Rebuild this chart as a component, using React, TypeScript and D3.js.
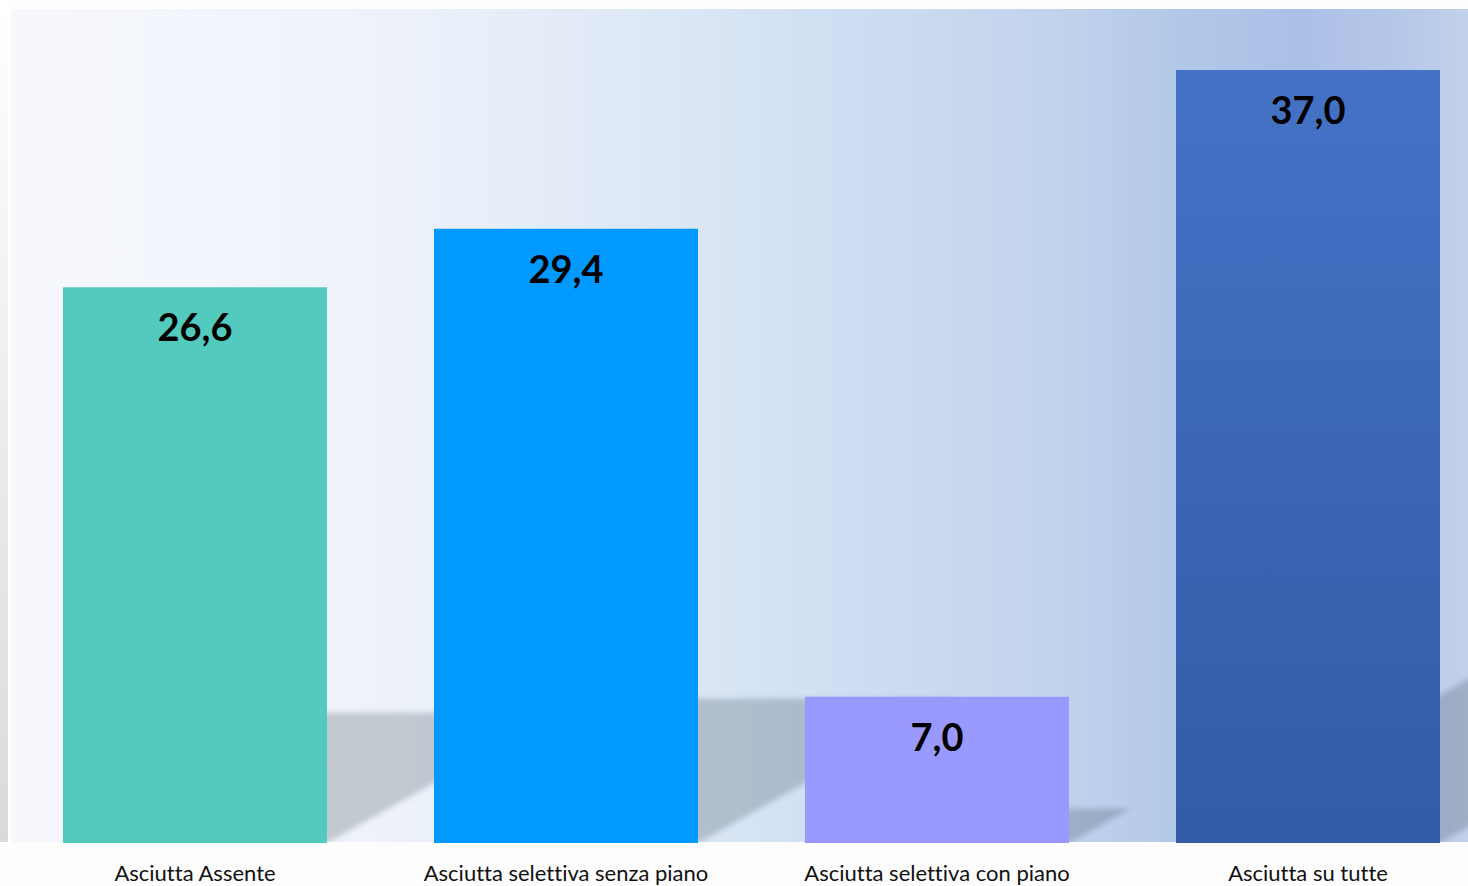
import React from "react";
import * as d3 from "d3";

const categories = [
  "Asciutta Assente",
  "Asciutta selettiva senza piano",
  "Asciutta selettiva con piano",
  "Asciutta su tutte",
];
const values = [26.6, 29.4, 7.0, 37.0];
const valueLabels = ["26,6", "29,4", "7,0", "37,0"];
const barColors = ["#52CBBE", "#0099FF", "#9999FF", "url(#bar4grad)"];

const W = 1468;
const H = 886;

const bgStops: [number, string][] = [
  [0, "#F7F8FD"],
  [0.267, "#EDF2FA"],
  [0.473, "#DAE6F5"],
  [0.555, "#D0DFF2"],
  [0.713, "#C2D3EC"],
  [0.8, "#B3C8E8"],
  [0.885, "#ACBFE6"],
  [0.953, "#B6C8E8"],
  [1, "#C2D0EA"],
];

export default function App() {
  const plot = { x0: 11, y0: 9, x1: W, y1: 842 };
  const base = 843;
  const x = d3
    .scaleBand<string>()
    .domain(categories)
    .range([9.5, 1493.5])
    .paddingInner(0.2884)
    .paddingOuter(0.1442);
  const y = d3.scaleLinear().domain([0, 37]).range([base, 70]);

  const shadowRatio = 0.235;
  const slope = 0.56;
  const textStyle = { fontVariantLigatures: "none" as const, fontFeatureSettings: "'liga' 0, 'clig' 0" };

  return (
    <svg
      width={W}
      height={H}
      style={{ position: "absolute", left: 0, top: 0, display: "block" }}
    >
      <defs>
        <linearGradient id="bg" gradientUnits="userSpaceOnUse" x1={plot.x0} x2={plot.x1} y1="0" y2="0">
          {bgStops.map(([o, c]) => (
            <stop key={o} offset={o} stopColor={c} />
          ))}
        </linearGradient>
        <linearGradient id="leftStrip" x1="0" x2="0" y1="0" y2="1">
          <stop offset="0" stopColor="#FFFFFF" />
          <stop offset="1" stopColor="#DADADA" />
        </linearGradient>
        <linearGradient id="bar4grad" x1="0" x2="0" y1="0" y2="1">
          <stop offset="0" stopColor="#4472C6" />
          <stop offset="1" stopColor="#335BA6" />
        </linearGradient>
        <filter id="blur" x="-20%" y="-20%" width="140%" height="140%">
          <feGaussianBlur stdDeviation="2.5" />
        </filter>
        <clipPath id="plotClip">
          <rect x={plot.x0} y={plot.y0} width={plot.x1 - plot.x0} height={plot.y1 - plot.y0} />
        </clipPath>
      </defs>

      <rect x={0} y={0} width={W} height={H} fill="#FDFDFD" />
      <rect x={0} y={0} width={8} height={plot.y1} fill="url(#leftStrip)" />
      <rect x={8} y={plot.y0 - 2} width={W - 8} height={plot.y1 - plot.y0 + 2} fill="#FFFFFF" />
      <rect
        x={plot.x0}
        y={plot.y0}
        width={plot.x1 - plot.x0}
        height={plot.y1 - plot.y0}
        fill="url(#bg)"
      />

      <g clipPath="url(#plotClip)">
        <g filter="url(#blur)">
          {categories.map((c, i) => {
            const bx0 = x(c)!;
            const bx1 = bx0 + x.bandwidth();
            const h = (base - y(values[i])) * shadowRatio;
            const dx = h / slope;
            const top = base - h;
            const pts = [
              [bx0, base],
              [bx1, base],
              [bx1 + dx, top],
              [bx0 + dx, top],
            ];
            return (
              <polygon
                key={c}
                points={pts.map((p) => p.join(",")).join(" ")}
                fill="rgba(40,50,70,0.22)"
              />
            );
          })}
        </g>
      </g>

      {categories.map((c, i) => (
        <rect
          key={c}
          x={x(c)!}
          y={y(values[i])}
          width={x.bandwidth()}
          height={base - y(values[i])}
          fill={barColors[i]}
        />
      ))}

      {categories.map((c, i) => (
        <text
          key={"v" + c}
          x={x(c)! + x.bandwidth() / 2}
          y={y(values[i]) + 54}
          textAnchor="middle"
          fontFamily="Lato, 'Open Sans', sans-serif"
          fontWeight={700}
          fontSize={38}
          fill="#000"
          style={textStyle}
        >
          {valueLabels[i]}
        </text>
      ))}

      {categories.map((c) => (
        <text
          key={"c" + c}
          x={x(c)! + x.bandwidth() / 2}
          y={881}
          textAnchor="middle"
          fontFamily="Lato, 'Open Sans', sans-serif"
          fontSize={22}
          fill="#111"
          style={textStyle}
        >
          {c}
        </text>
      ))}
    </svg>
  );
}
